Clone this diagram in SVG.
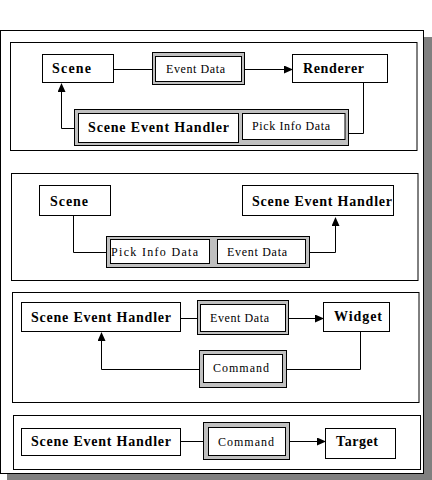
<svg xmlns="http://www.w3.org/2000/svg" width="432" height="480" viewBox="0 0 432 480">
<style>
.frame{fill:#fff;stroke:#000;stroke-width:1}
.box{fill:#fff;stroke:#000;stroke-width:1}
.grey{fill:#c0c0c0;stroke:#000;stroke-width:1}
.b{font-family:"Liberation Serif","Times New Roman",serif;font-weight:bold;font-size:14px;fill:#000}
.r{font-family:"Liberation Serif","Times New Roman",serif;font-size:12px;fill:#000}
.ln{fill:none;stroke:#000;stroke-width:1}
</style>
<defs>
<marker id="ah" markerWidth="9" markerHeight="8" refX="8" refY="4" orient="auto" markerUnits="userSpaceOnUse">
<path d="M0,0 L9,4 L0,8 Z" fill="#000"/>
</marker>
</defs>
<rect x="0" y="0" width="432" height="480" fill="#fff"/>
<rect x="424" y="37" width="8" height="443" fill="#808080"/>
<rect x="7" y="473.5" width="425" height="6.5" fill="#808080"/>
<rect class="frame" x="0.5" y="30.5" width="423" height="443"/>

<g id="panel1">
<rect class="frame" x="10.5" y="42.5" width="406.5" height="108"/>
</g>
<g id="panel2">
<rect class="frame" x="11.5" y="173.5" width="406.5" height="107"/>
</g>
<g id="panel3">
<rect class="frame" x="12.5" y="292.5" width="406.5" height="110"/>
</g>
<g id="panel4">
<rect class="frame" x="13.5" y="415.5" width="407" height="54"/>
</g>

<!-- Panel 1 nodes -->
<g id="p1-scene"><rect class="box" x="42.5" y="54.5" width="71" height="28"/><text class="b" x="52" y="73" textLength="39">Scene</text></g>
<g id="p1-eventdata"><rect class="grey" x="152.5" y="52.5" width="92" height="32"/><rect class="box" x="155.5" y="56.5" width="86" height="25"/><text class="r" x="166" y="73" textLength="59">Event Data</text></g>
<g id="p1-renderer"><rect class="box" x="292.5" y="54.5" width="95" height="28"/><text class="b" x="303" y="73" textLength="61">Renderer</text></g>
<g id="p1-handler"><rect class="grey" x="74.5" y="109.5" width="274" height="36"/><rect class="box" x="78.5" y="113.5" width="160" height="29"/><text class="b" x="88" y="132" textLength="141">Scene Event Handler</text><rect class="box" x="242.5" y="113.5" width="102.5" height="26"/><text class="r" x="252" y="130" textLength="78">Pick Info Data</text></g>

<!-- Panel 2 nodes -->
<g id="p2-scene"><rect class="box" x="39.5" y="185.5" width="71" height="30"/><text class="b" x="50" y="206" textLength="38">Scene</text></g>
<g id="p2-handler"><rect class="box" x="242.5" y="185.5" width="151" height="30"/><text class="b" x="252" y="206" textLength="140">Scene Event Handler</text></g>
<g id="p2-data"><rect class="grey" x="106.5" y="236.5" width="203" height="31"/><rect class="box" x="110.5" y="239.5" width="99" height="24"/><text class="r" x="111" y="256" textLength="87">Pick Info Data</text><rect class="box" x="217.5" y="239.5" width="88" height="24"/><text class="r" x="227" y="256" textLength="60">Event Data</text></g>

<!-- Panel 3 nodes -->
<g id="p3-handler"><rect class="box" x="21.5" y="302.5" width="159" height="29"/><text class="b" x="31" y="322" textLength="140">Scene Event Handler</text></g>
<g id="p3-eventdata"><rect class="grey" x="197.5" y="300.5" width="91" height="34"/><rect class="box" x="200.5" y="304.5" width="85" height="27"/><text class="r" x="210" y="322" textLength="59">Event Data</text></g>
<g id="p3-widget"><rect class="box" x="323.5" y="302.5" width="66" height="29"/><text class="b" x="334" y="321" textLength="48">Widget</text></g>
<g id="p3-command"><rect class="grey" x="199.5" y="350.5" width="87" height="37"/><rect class="box" x="203.5" y="354.5" width="79" height="28"/><text class="r" x="213" y="372" textLength="56">Command</text></g>

<!-- Panel 4 nodes -->
<g id="p4-handler"><rect class="box" x="21.5" y="428.5" width="159" height="27"/><text class="b" x="31" y="446" textLength="140">Scene Event Handler</text></g>
<g id="p4-command"><rect class="grey" x="203.5" y="422.5" width="86" height="37"/><rect class="box" x="208.5" y="427.5" width="77" height="28"/><text class="r" x="218" y="446" textLength="56">Command</text></g>
<g id="p4-target"><rect class="box" x="325.5" y="428.5" width="70" height="30"/><text class="b" x="336" y="446" textLength="42">Target</text></g>

<g id="connectors">
<path class="ln" d="M113.5,69.5 H152.5"/>
<path class="ln" d="M244.5,69.5 H292" marker-end="url(#ah)"/>
<path class="ln" d="M363.5,82.5 V133.5 H348.5"/>
<path class="ln" d="M74.5,128.5 H61.5 V84" marker-end="url(#ah)"/>
<path class="ln" d="M73.5,215.5 V252.5 H106.5"/>
<path class="ln" d="M309.5,252.5 H335.5 V218" marker-end="url(#ah)"/>
<path class="ln" d="M180.5,318.5 H197.5"/>
<path class="ln" d="M288.5,318.5 H323" marker-end="url(#ah)"/>
<path class="ln" d="M360.5,331.5 V369.5 H286.5"/>
<path class="ln" d="M199.5,369.5 H101.5 V333" marker-end="url(#ah)"/>
<path class="ln" d="M180.5,441.5 H203.5"/>
<path class="ln" d="M289.5,441.5 H325" marker-end="url(#ah)"/>
</g>
</svg>
